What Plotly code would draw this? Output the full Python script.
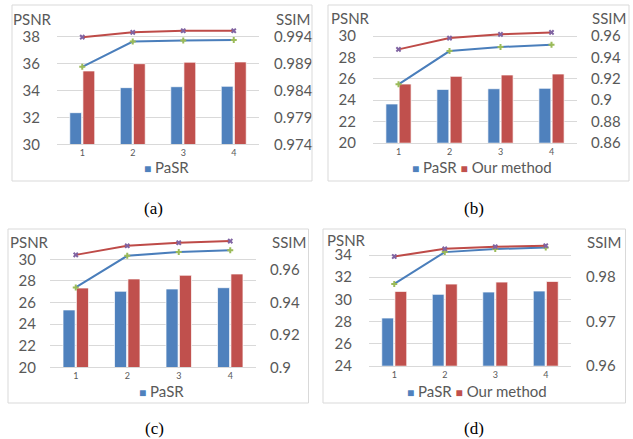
import plotly.graph_objects as go

W, H = 633, 439
categories = ["1", "2", "3", "4"]

# Panel (a)
a_psnr_pasr = [32.35, 34.21, 34.28, 34.31]
a_psnr_ours = [35.45, 35.99, 36.10, 36.12]
a_ssim_pasr = [0.9884, 0.9931, 0.9933, 0.9934]
a_ssim_ours = [0.9939, 0.9948, 0.9951, 0.9951]
# Panel (b)
b_psnr_pasr = [23.63, 25.00, 25.06, 25.10]
b_psnr_ours = [25.50, 26.22, 26.35, 26.44]
b_ssim_pasr = [0.9147, 0.9459, 0.9497, 0.9519]
b_ssim_ours = [0.9475, 0.9581, 0.9616, 0.9634]
# Panel (c)
c_psnr_pasr = [25.31, 27.04, 27.25, 27.37]
c_psnr_ours = [27.34, 28.18, 28.52, 28.64]
c_ssim_pasr = [0.9493, 0.9688, 0.9711, 0.9722]
c_ssim_ours = [0.9694, 0.9750, 0.9769, 0.9779]
# Panel (d)
d_psnr_pasr = [28.31, 30.45, 30.66, 30.75]
d_psnr_ours = [30.72, 31.38, 31.56, 31.62]
d_ssim_pasr = [0.97848, 0.98568, 0.98636, 0.98673]
d_ssim_ours = [0.98468, 0.98643, 0.98689, 0.98711]

psnr_ticks = {
    "a": [30, 32, 34, 36, 38],
    "b": [20, 22, 24, 26, 28, 30],
    "c": [20, 22, 24, 26, 28, 30],
    "d": [24, 26, 28, 30, 32, 34],
}
ssim_ticks = {
    "a": [0.974, 0.979, 0.984, 0.989, 0.994],
    "b": [0.86, 0.88, 0.90, 0.92, 0.94, 0.96],
    "c": [0.90, 0.92, 0.94, 0.96],
    "d": [0.96, 0.97, 0.98],
}
ssim_text = {
    "a": ["0.974", "0.979", "0.984", "0.989", "0.994"],
    "b": ["0.86", "0.88", "0.9", "0.92", "0.94", "0.96"],
    "c": ["0.9", "0.92", "0.94", "0.96"],
    "d": ["0.96", "0.97", "0.98"],
}
captions = ["(a)", "(b)", "(c)", "(d)"]

BLUE = "#4F81BD"
RED = "#C0504D"
LBLUE = "#4A7EBB"
LRED = "#BE4B48"
GREEN = "#9BBB59"
PURPLE = "#8064A2"
GRID = "#D9D9D9"
TXT = "#595959"
FONT = "Lato, 'Open Sans', sans-serif"
NOTICK = "rgba(0,0,0,0)"

def px(x):
    return x / W

def py(y):
    return 1 - y / H

panels = {
    "a": dict(x=(57, 259), y=(23.2, 144.3), lr=[30, 39], rr=[0.974, 0.9965],
              box=(12, 5, 312, 181), psnr=(32, 19), ssim=(293, 19), cap=(153, 208),
              leg=(166, 167), two=False, ll=13, rl=11),
    "b": dict(x=(373, 577), y=(25.4, 142.7), lr=[20, 31], rr=[0.86, 0.97],
              box=(328, 5, 629, 181), psnr=(350, 18), ssim=(609, 18), cap=(474, 208),
              leg=(482, 167), two=True, ll=13, rl=10),
    "c": dict(x=(50, 256), y=(237.7, 367.3), lr=[20, 32], rr=[0.90, 0.98],
              box=(8, 229, 308.5, 403), psnr=(30, 242), ssim=(289, 242), cap=(154, 428),
              leg=(161, 391), two=False, ll=10, rl=10),
    "d": dict(x=(369, 571), y=(233, 365.7), lr=[24, 36], rr=[0.96, 0.99],
              box=(323, 229, 625.5, 403), psnr=(346, 240), ssim=(604, 242), cap=(474, 428),
              leg=(477, 391), two=True, ll=13, rl=11),
}

data = {
    "a": (a_psnr_pasr, a_psnr_ours, a_ssim_pasr, a_ssim_ours),
    "b": (b_psnr_pasr, b_psnr_ours, b_ssim_pasr, b_ssim_ours),
    "c": (c_psnr_pasr, c_psnr_ours, c_ssim_pasr, c_ssim_ours),
    "d": (d_psnr_pasr, d_psnr_ours, d_ssim_pasr, d_ssim_ours),
}

fig = go.Figure()
layout = dict(
    width=W, height=H, margin=dict(l=0, r=0, t=0, b=0, pad=0, autoexpand=False),
    paper_bgcolor="white", plot_bgcolor="white",
    showlegend=False, barmode="group", bargap=0.48, bargroupgap=0.1,
    font=dict(family=FONT, color=TXT),
)
shapes = []
annotations = []

for i, key in enumerate(["a", "b", "c", "d"]):
    p = panels[key]
    n = i + 1
    xa = "x" if n == 1 else f"x{n}"
    ya = "y" if n == 1 else f"y{n}"
    y2n = n + 4
    ya2 = f"y{y2n}"
    pasr, ours, s_pasr, s_ours = data[key]

    fig.add_trace(go.Bar(x=categories, y=pasr, name="PaSR", xaxis=xa, yaxis=ya,
                         marker=dict(color=BLUE, line=dict(color="rgba(255,255,255,0.7)", width=1))))
    fig.add_trace(go.Bar(x=categories, y=ours, name="Our method", xaxis=xa, yaxis=ya,
                         marker=dict(color=RED, line=dict(color="rgba(255,255,255,0.7)", width=1))))
    fig.add_trace(go.Scatter(x=categories, y=s_pasr, name="PaSR SSIM", xaxis=xa, yaxis=ya2,
                             mode="lines+markers", line=dict(color=LBLUE, width=2),
                             marker=dict(symbol="cross", size=5, color=GREEN)))
    fig.add_trace(go.Scatter(x=categories, y=s_ours, name="Our method SSIM", xaxis=xa, yaxis=ya2,
                             mode="lines+markers", line=dict(color=LRED, width=2),
                             marker=dict(symbol="x", size=5, color=PURPLE)))

    xdom = [px(p["x"][0]), px(p["x"][1])]
    ydom = [py(p["y"][1]), py(p["y"][0])]
    xname = "xaxis" if n == 1 else f"xaxis{n}"
    yname = "yaxis" if n == 1 else f"yaxis{n}"
    layout[xname] = dict(domain=xdom, anchor=ya, type="category", showgrid=False,
                         showline=True, linecolor=GRID, linewidth=1, ticks="",
                         automargin=False,
                         tickfont=dict(size=9, color=TXT), fixedrange=True)
    layout[yname] = dict(domain=ydom, anchor=xa, range=p["lr"], tickvals=psnr_ticks[key],
                         showgrid=True, gridcolor=GRID, gridwidth=1, zeroline=False,
                         automargin=False,
                         showline=False, ticks="outside", ticklen=p["ll"], tickcolor=NOTICK,
                         tickfont=dict(size=15, color=TXT))
    layout[f"yaxis{y2n}"] = dict(domain=ydom, anchor=xa, overlaying=ya, side="right",
                                  range=p["rr"], tickvals=ssim_ticks[key], ticktext=ssim_text[key],
                                  showgrid=False, zeroline=False, showline=False,
                                  automargin=False,
                                  ticks="outside", ticklen=p["rl"], tickcolor=NOTICK,
                                  tickfont=dict(size=15, color=TXT))

    bx0, by0, bx1, by1 = p["box"]
    shapes.append(dict(type="rect", xref="paper", yref="paper",
                       x0=px(bx0), x1=px(bx1), y0=py(by1), y1=py(by0),
                       line=dict(color=GRID, width=1)))
    annotations.append(dict(text="PSNR", x=px(p["psnr"][0]), y=py(p["psnr"][1]),
                            xref="paper", yref="paper", showarrow=False,
                            xanchor="center", yanchor="middle",
                            font=dict(size=15, color=TXT, family=FONT)))
    annotations.append(dict(text="SSIM", x=px(p["ssim"][0]), y=py(p["ssim"][1]),
                            xref="paper", yref="paper", showarrow=False,
                            xanchor="center", yanchor="middle",
                            font=dict(size=15, color=TXT, family=FONT)))
    annotations.append(dict(text=captions[i], x=px(p["cap"][0]), y=py(p["cap"][1]),
                            xref="paper", yref="paper", showarrow=False,
                            xanchor="center", yanchor="middle",
                            font=dict(size=17, color="black", family="'Liberation Serif', 'Times New Roman', serif")))
    sq = "<span style='color:{c};font-size:12px'>■</span>"
    if p["two"]:
        leg = sq.format(c=BLUE) + " PaSR " + sq.format(c=RED) + " Our method"
    else:
        leg = sq.format(c=BLUE) + " PaSR"
    annotations.append(dict(text=leg, x=px(p["leg"][0]), y=py(p["leg"][1]),
                            xref="paper", yref="paper", showarrow=False,
                            xanchor="center", yanchor="middle",
                            font=dict(size=15, color=TXT, family=FONT)))

layout["shapes"] = shapes
layout["annotations"] = annotations
fig.update_layout(**layout)
fig.write_html("out.html", config={"displayModeBar": False, "staticPlot": True},
               post_script="document.body.style.margin='0px';document.body.style.overflow='hidden';")
